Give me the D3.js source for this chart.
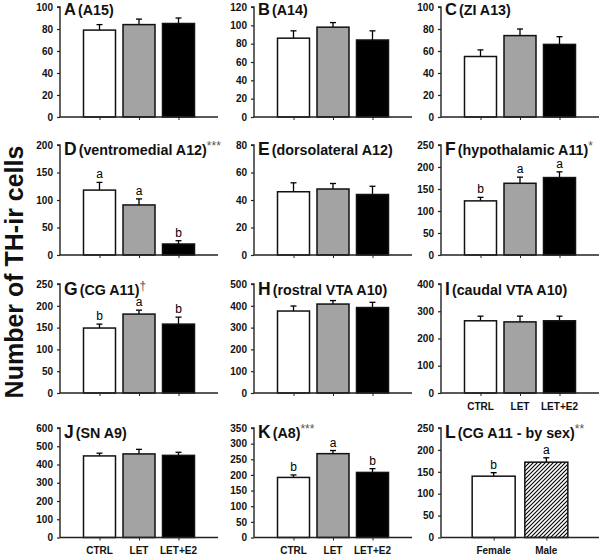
<!DOCTYPE html>
<html><head><meta charset="utf-8">
<script src="https://cdn.jsdelivr.net/npm/d3@7"></script>
<style>body{margin:0;background:#fff}svg{display:block;font-family:"Liberation Sans",Arial,sans-serif}</style>
</head><body><svg id="c" width="600" height="555"></svg>
<script>
const groups = ["CTRL", "LET", "LET+E2"];
const sexGroups = ["Female", "Male"];
const panelLetters = ["A","B","C","D","E","F","G","H","I","J","K","L"];
const panelTitles = ["(A15)","(A14)","(ZI A13)","(ventromedial A12)","(dorsolateral A12)","(hypothalamic A11)","(CG A11)","(rostral VTA A10)","(caudal VTA A10)","(SN A9)","(A8)","(CG A11 - by sex)"];
const panelSig = ["","","","***","","*","\u2020","","","","***","**"];
const yMax = [100,120,100,200,80,250,250,500,400,600,350,250];
const yStep = [20,20,20,50,20,50,50,100,100,100,50,50];
const means = [[79,84,85],[86,98,84],[55,74,66],[118,91,20],[46,48,44],[123,163,176],[149,181,158],[376,408,392],[265,261,265],[447,458,450],[192,268,208],[140,172]];
const sems = [[5,5,5],[8,5,10],[6,6,7],[14,11,6],[6.5,4,6],[8,14,13],[9,9,16],[23,16,24],[17,21,17],[15,25,17],[8,10,12],[8,10]];
const sigLetters = [[],[],[],["a","a","b"],[],["b","a","a"],["b","a","b"],[],[],[],["b","a","b"],["b","a"]];
const showCats = [false,false,false,false,false,false,false,false,true,true,true,true];
const yLabel = "Number of TH-ir cells";

const svg = d3.select("#c");
const colX = [60, 254, 441];
const W = 158;
const rowTop = [7, 145, 284, 428];
const rowBot = [117, 255, 393, 537.5];
const titleBase = [15, 155, 295, 438];
const titleSize = [16.5, 17.5, 17.5, 17.5];
const catBase = [0, 0, 410, 554];
const fills = ["#ffffff", "#a3a3a3", "#000000"];

const defs = svg.append("defs");
const pat = defs.append("pattern").attr("id","hatch").attr("patternUnits","userSpaceOnUse").attr("width",4).attr("height",4);
pat.append("rect").attr("width",4).attr("height",4).attr("fill","#fff");
pat.append("path").attr("d","M-1,1 l2,-2 M0,4 l4,-4 M3,5 l2,-2").attr("stroke","#000").attr("stroke-width",1.1);

panelLetters.forEach((L, i) => {
  const r = Math.floor(i/3), c = i%3;
  const x0 = colX[c], yT = rowTop[r], yB = rowBot[r];
  const cats = i === 11 ? sexGroups : groups;
  const x = d3.scalePoint().domain(cats).range([x0, x0+W]).padding(1);
  const y = d3.scaleLinear().domain([0, yMax[i]]).range([yB, yT]);
  const g = svg.append("g");
  const bw = i === 11 ? 43 : 32;
  const ticks = d3.range(0, yMax[i]+0.001, yStep[i]);

  cats.forEach((cat, k) => {
    const m = means[i][k], s = sems[i][k];
    const cx = x(cat);
    g.append("line").attr("x1",cx).attr("x2",cx).attr("y1",y(m)).attr("y2",y(m+s)).attr("stroke","#000").attr("stroke-width",1.3);
    g.append("line").attr("x1",cx-3).attr("x2",cx+3).attr("y1",y(m+s)).attr("y2",y(m+s)).attr("stroke","#000").attr("stroke-width",1.3);
    const fill = i === 11 ? (k === 0 ? "#fff" : "url(#hatch)") : fills[k];
    g.append("rect").attr("x",cx-bw/2).attr("y",y(m)).attr("width",bw).attr("height",y(0)-y(m))
      .attr("fill",fill).attr("stroke","#111").attr("stroke-width",1.5);
    if (sigLetters[i][k]) {
      g.append("text").attr("x",cx).attr("y",y(m+s)-4).attr("text-anchor","middle")
        .attr("font-size",12).attr("fill","#000").text(sigLetters[i][k]);
    }
  });

  const ya = g.append("g").attr("transform",`translate(${x0},0)`)
    .call(d3.axisLeft(y).tickValues(ticks).tickSize(3).tickPadding(4).tickFormat(d3.format("d")));
  ya.select(".domain").attr("stroke","#222").attr("stroke-width",1.4).attr("d",`M-3,${yT}H0V${yB}`);
  ya.selectAll(".tick line").attr("stroke","#222").attr("stroke-width",1.2);
  ya.selectAll("text").attr("font-size",10).attr("font-weight","bold").attr("fill","#111").attr("font-family","Liberation Sans, Arial, sans-serif");

  const xa = g.append("g").attr("transform",`translate(0,${yB})`)
    .call(d3.axisBottom(x).tickSize(3).tickPadding(9).tickFormat(""));
  xa.select(".domain").attr("stroke","#222").attr("stroke-width",1.4).attr("d",`M${x0},0H${x0+W}`);
  xa.selectAll(".tick line").attr("stroke","#222").attr("stroke-width",1);
  xa.selectAll("text").remove();
  if (showCats[i]) {
    cats.forEach(cat => {
      g.append("text").attr("x",x(cat)).attr("y",catBase[r]).attr("text-anchor","middle")
        .attr("font-size",10).attr("font-weight","bold").attr("fill","#111").text(cat);
    });
  }

  const t = g.append("text").attr("x",x0+4).attr("y",titleBase[r]).attr("fill","#111").attr("font-weight","bold");
  t.append("tspan").attr("font-size",titleSize[r]).text(L);
  t.append("tspan").attr("font-size",14.3).attr("dx",2).text(panelTitles[i]);
  if (panelSig[i]) t.append("tspan").attr("font-size",12).attr("font-weight","normal").attr("fill","#555").attr("dy",-5).text(panelSig[i]);
});

svg.append("text").attr("transform","translate(23,272) rotate(-90)").attr("text-anchor","middle")
  .attr("font-size",25).attr("font-weight","bold").attr("fill","#111").text(yLabel);
</script></body></html>
